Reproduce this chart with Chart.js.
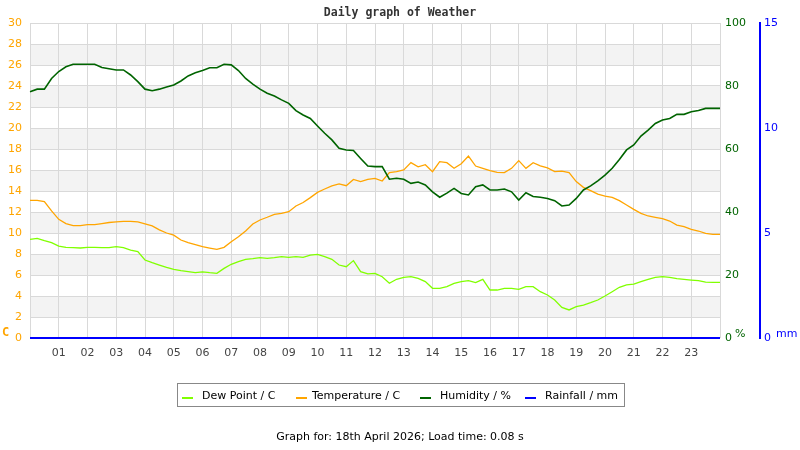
<!DOCTYPE html>
<html><head><meta charset="utf-8">
<script src="https://cdn.jsdelivr.net/npm/chart.js@4.4.1/dist/chart.umd.min.js"></script>
<style>html,body{margin:0;padding:0;background:#fff;}canvas{display:block;}</style>
</head><body>
<canvas id="c" width="800" height="450"></canvas>
<script>
const chartTitle = 'Daily graph of Weather';
const footerText = 'Graph for: 18th April 2026; Load time: 0.08 s';
const times = [
'00:00','00:15','00:30','00:45','01:00','01:15','01:30','01:45','02:00','02:15','02:30','02:45',
'03:00','03:15','03:30','03:45','04:00','04:15','04:30','04:45','05:00','05:15','05:30','05:45',
'06:00','06:15','06:30','06:45','07:00','07:15','07:30','07:45','08:00','08:15','08:30','08:45',
'09:00','09:15','09:30','09:45','10:00','10:15','10:30','10:45','11:00','11:15','11:30','11:45',
'12:00','12:15','12:30','12:45','13:00','13:15','13:30','13:45','14:00','14:15','14:30','14:45',
'15:00','15:15','15:30','15:45','16:00','16:15','16:30','16:45','17:00','17:15','17:30','17:45',
'18:00','18:15','18:30','18:45','19:00','19:15','19:30','19:45','20:00','20:15','20:30','20:45',
'21:00','21:15','21:30','21:45','22:00','22:15','22:30','22:45','23:00','23:15','23:30','23:45','24:00'];
const hourTickLabels = ['01','02','03','04','05','06','07','08','09','10','11','12','13','14','15','16','17','18','19','20','21','22','23'];
const dewPoint = [
9.4,9.49,9.27,9.08, 8.76,8.63,8.6,8.57, 8.63,8.63,8.6,8.6, 8.7,8.6,8.38,8.22,
7.43,7.17,6.95,6.73, 6.54,6.41,6.32,6.22, 6.3,6.22,6.16,6.63, 7.02,7.27,7.49,7.56,
7.65,7.59,7.65,7.75, 7.68,7.75,7.68,7.9, 7.97,7.75,7.49,6.95, 6.79,7.37,6.32,6.1,
6.16,5.84,5.21,5.59, 5.78,5.84,5.68,5.37, 4.73,4.73,4.89,5.21, 5.37,5.46,5.27,5.59,
4.57,4.57,4.73,4.73, 4.63,4.89,4.89,4.41, 4.1,3.62,2.92,2.67, 2.98,3.14,3.37,3.62,
4.0,4.41,4.83,5.05, 5.14,5.37,5.59,5.78, 5.84,5.78,5.65,5.59, 5.52,5.46,5.33,5.3, 5.3];
const temperature = [
13.1,13.1,13.0,12.1, 11.3,10.9,10.7,10.7, 10.8,10.8,10.9,11.0, 11.05,11.1,11.1,11.05,
10.86,10.67,10.3,10.0, 9.8,9.33,9.08,8.9, 8.7,8.57,8.44,8.63, 9.17,9.65,10.2,10.86,
11.24,11.5,11.78,11.87, 12.03,12.57,12.9,13.37, 13.87,14.19,14.48,14.67, 14.5,15.1,14.9,15.1,
15.2,14.95,15.75,15.84, 16.0,16.7,16.3,16.5, 15.84,16.8,16.7,16.16, 16.6,17.33,16.38,16.16,
15.94,15.78,15.75,16.16, 16.89,16.16,16.7,16.4, 16.2,15.84,15.9,15.75, 14.9,14.35,14.03,13.71,
13.52,13.4,13.08,12.67, 12.25,11.87,11.62,11.49, 11.37,11.14,10.76,10.6, 10.35,10.19,9.97,9.87, 9.87];
const humidity = [
78.2,79.0,79.0,82.4, 84.6,86.1,86.9,86.9, 86.9,86.9,85.9,85.5, 85.1,85.1,83.5,81.4,
79.0,78.5,79.0,79.7, 80.3,81.6,83.2,84.2, 84.9,85.8,85.8,86.9, 86.7,84.9,82.4,80.6,
79.0,77.7,76.8,75.6, 74.5,72.2,70.8,69.7, 67.3,65.0,62.9,60.2, 59.7,59.5,57.0,54.6,
54.4,54.4,50.4,50.7, 50.4,49.1,49.5,48.6, 46.4,44.7,46.0,47.5, 45.9,45.4,48.0,48.6,
47.0,47.0,47.3,46.4, 43.8,46.1,44.9,44.7, 44.3,43.6,41.9,42.2, 44.3,47.0,48.3,49.9,
51.7,53.9,56.7,59.7, 61.3,64.1,66.0,68.1, 69.2,69.7,71.0,71.0, 71.8,72.2,72.9,72.9, 72.9];
const rainTimes = ['00:00','24:00'];
const rainfall = [0, 0];
const seriesNames = ['Dew Point / C','Temperature / C','Humidity / %','Rainfall / mm'];
const seriesColors = ['#80ff00','#ffa500','#006400','#0000ff'];
const tempTicks = [0,2,4,6,8,10,12,14,16,18,20,22,24,26,28,30];
const humTicks = [0,20,40,60,80,100];
const rainTicks = [0,5,10,15];

const GRID = '#d9d9d9';
const FONT = '"DejaVu Sans", sans-serif';

const bandsPlugin = {
  id: 'bands',
  beforeDraw(chart) {
    const {ctx, chartArea: a} = chart;
    const y = chart.scales.y;
    ctx.save();
    ctx.fillStyle = '#f3f3f3';
    for (let i = 0; i < tempTicks.length - 1; i++) {
      if (i % 2 === 1) {
        const top = y.getPixelForValue(tempTicks[i + 1]);
        const bot = y.getPixelForValue(tempTicks[i]);
        ctx.fillRect(a.left, top, a.right - a.left, bot - top);
      }
    }
    ctx.restore();
  }
};

const decorPlugin = {
  id: 'decor',
  afterDraw(chart) {
    const ctx = chart.ctx;
    ctx.save();
    ctx.font = 'bold 11.5px "DejaVu Sans Mono", monospace';
    ctx.fillStyle = '#333';
    ctx.textAlign = 'center';
    ctx.textBaseline = 'middle';
    ctx.fillText(chartTitle, 400, 13);
    ctx.textAlign = 'left';
    ctx.font = 'bold 12px "DejaVu Sans Mono", monospace';
    ctx.fillStyle = '#ffa500';
    ctx.fillText('C', 2, 333);
    ctx.font = '11px ' + FONT;
    ctx.fillStyle = '#006400';
    ctx.fillText('%', 735, 334);
    ctx.fillStyle = '#0000ff';
    ctx.fillText('mm', 776, 334);
    ctx.strokeStyle = '#888';
    ctx.lineWidth = 1;
    ctx.strokeRect(177.5, 383.5, 447, 23);
    const swX = [182, 296, 420, 525];
    const txX = [202, 312, 440, 545];
    ctx.font = '11px ' + FONT;
    ctx.textBaseline = 'middle';
    for (let i = 0; i < seriesNames.length; i++) {
      ctx.strokeStyle = seriesColors[i];
      ctx.lineWidth = 2;
      ctx.beginPath();
      ctx.moveTo(swX[i], 398);
      ctx.lineTo(swX[i] + 11, 398);
      ctx.stroke();
      ctx.fillStyle = '#000';
      ctx.fillText(seriesNames[i], txX[i], 396);
    }
    ctx.textAlign = 'center';
    ctx.fillStyle = '#000';
    ctx.fillText(footerText, 400, 437);
    ctx.restore();
  }
};

const hourOf = lbl => lbl.slice(0, 2);
const isHour = lbl => lbl.endsWith(':00');

new Chart(document.getElementById('c'), {
  type: 'line',
  data: {
    labels: times,
    datasets: [
      {label: seriesNames[0], data: dewPoint, borderColor: seriesColors[0], borderWidth: 1.3, yAxisID: 'y', order: 3},
      {label: seriesNames[1], data: temperature, borderColor: seriesColors[1], borderWidth: 1.3, yAxisID: 'y', order: 2},
      {label: seriesNames[2], data: humidity, borderColor: seriesColors[2], borderWidth: 1.6, yAxisID: 'y1', order: 1},
      {label: seriesNames[3], data: rainTimes.map((t, i) => ({x: t, y: rainfall[i]})), borderColor: seriesColors[3], borderWidth: 2, yAxisID: 'y2', order: 0, clip: false}
    ]
  },
  options: {
    responsive: false,
    animation: false,
    devicePixelRatio: 1,
    layout: {padding: {top: 23, left: 0, right: 0, bottom: 0}},
    elements: {point: {radius: 0}, line: {tension: 0}},
    plugins: {legend: {display: false}, tooltip: {enabled: false}, title: {display: false}},
    scales: {
      x: {
        type: 'category',
        offset: false,
        afterFit: s => { s.height = 112; },
        border: {display: false},
        grid: {
          color: ctx => (ctx.tick && isHour(times[ctx.index])) ? GRID : 'rgba(0,0,0,0)',
          drawTicks: false, lineWidth: 1
        },
        ticks: {
          autoSkip: false, maxRotation: 0, minRotation: 0, padding: 9,
          color: '#444', font: {family: FONT, size: 11},
          callback: function(v, i) {
            const lbl = times[i];
            if (!isHour(lbl)) return '';
            const h = hourOf(lbl);
            return hourTickLabels.includes(h) ? h : '';
          }
        }
      },
      y: {
        position: 'left', min: 0, max: 30,
        afterFit: s => { s.width = 30; },
        afterBuildTicks: s => { s.ticks = tempTicks.map(v => ({value: v})); },
        border: {display: false},
        grid: {color: GRID, drawTicks: false},
        ticks: {padding: 8, color: '#ffa500', font: {family: FONT, size: 11}}
      },
      y1: {
        position: 'right', min: 0, max: 100,
        afterFit: s => { s.width = 40; },
        afterBuildTicks: s => { s.ticks = humTicks.map(v => ({value: v})); },
        border: {display: false},
        grid: {drawOnChartArea: false, drawTicks: false},
        ticks: {padding: 5, color: '#006400', font: {family: FONT, size: 11}}
      },
      y2: {
        position: 'right', min: 0, max: 15,
        afterFit: s => { s.width = 40; },
        afterBuildTicks: s => { s.ticks = rainTicks.map(v => ({value: v})); },
        border: {display: true, color: '#0000ff', width: 2},
        grid: {drawOnChartArea: false, drawTicks: false},
        ticks: {padding: 4, color: '#0000ff', font: {family: FONT, size: 11}}
      }
    }
  },
  plugins: [bandsPlugin, decorPlugin]
});
</script>
</body></html>
